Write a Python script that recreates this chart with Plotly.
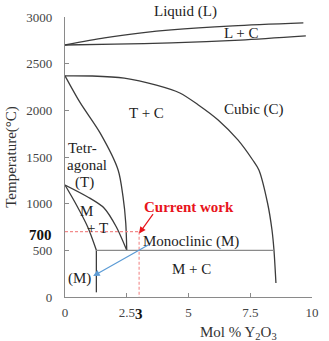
import plotly.graph_objects as go

# Phase boundaries (mol % Y2O3, temperature °C)
liq_x = [0, 1.6, 3.1, 4.3, 6.8, 9.65]
liq_T = [2700, 2776, 2830, 2862, 2905, 2937]
sol_x = [0, 2.0, 4.3, 7.1, 9.75]
sol_T = [2700, 2710, 2722, 2752, 2797]
cub_x = [0, 1.1, 2.4, 3.7, 4.65, 5.4, 6.2, 7.0, 7.6, 7.85, 8.2, 8.38, 8.46, 8.54]
cub_T = [2370, 2368, 2345, 2270, 2186, 2058, 1897, 1683, 1468, 1361, 1007, 718, 504, 150]
tet_x = [0, 0.62, 1.42, 2.15, 2.35, 2.46, 2.5]
tet_T = [2370, 2079, 1758, 1361, 1072, 793, 500]
mtu_x = [0, 0.92, 1.58, 2.08, 2.5]
mtu_T = [1200, 1072, 954, 750, 500]
mtl_x = [0, 0.42, 0.92, 1.27]
mtl_T = [1200, 1007, 750, 500]
mono_x = [1.27, 1.27]
mono_T = [500, 50]
eut_x = [1.27, 8.46]
eut_T = [500, 500]

# Current work point
cw_x = 3
cw_T = 700

x_ticks = [0, 2.5, 5, 7.5, 10]
y_ticks = [0, 500, 1000, 1500, 2000, 2500, 3000]

# Region labels (inside the plot range)
lab_text = ["L + C", "T + C", "Cubic (C)", "Tetr-", "agonal", "(T)",
            "M", "+ T", "(M)", "Monoclinic (M)", "M + C"]
lab_x = [7.15, 3.3, 7.65, 0.7, 0.9, 0.78, 0.88, 1.31, 0.6, 5.12, 5.12]
lab_T = [2830, 1972, 2004, 1597, 1415, 1222, 922, 740, 193, 590, 300]

FONT = "Liberation Serif, Times New Roman, serif"
LINE = "#3c3c3c"

fig = go.Figure()

def add_line(x, y, color=LINE, width=1.3, dash=None, shape="spline"):
    fig.add_trace(go.Scatter(x=x, y=y, mode="lines",
                             line=dict(color=color, width=width, dash=dash, shape=shape,
                                       smoothing=0.8),
                             hoverinfo="skip", showlegend=False, cliponaxis=False))

add_line(liq_x, liq_T)
add_line(sol_x, sol_T)
add_line(cub_x, cub_T)
add_line(tet_x, tet_T)
add_line(mtu_x, mtu_T)
add_line(mtl_x, mtl_T)
add_line(mono_x, mono_T, shape="linear")
add_line(eut_x, eut_T, color="#8a8a8a", shape="linear")

# dashed red guide lines
add_line([0, cw_x], [cw_T, cw_T], color="#f28b8b", width=1.1, dash="3px,2px", shape="linear")
add_line([cw_x, cw_x], [cw_T, 0], color="#f28b8b", width=1.1, dash="3px,2px", shape="linear")

annotations = []
for t, x, y in zip(lab_text, lab_x, lab_T):
    annotations.append(dict(text=t, x=x, y=y, xref="x", yref="y", showarrow=False,
                            font=dict(family=FONT, size=15, color="#222")))

# label above the plot area
annotations.append(dict(text="Liquid (L)", x=0.488, y=1.018, xref="paper", yref="paper",
                        xanchor="center", yanchor="middle",
                        showarrow=False, font=dict(family=FONT, size=15, color="#222")))

annotations.append(dict(text="<b>Current work</b>", x=5.0, y=965, xref="x", yref="y",
                        showarrow=False, font=dict(family=FONT, size=15, color="#e8141b")))
# red arrow
annotations.append(dict(text="", x=cw_x, y=cw_T - 20, xref="x", yref="y", showarrow=True,
                        ax=15, ay=-21, arrowhead=2, arrowsize=1.1, arrowwidth=1.2,
                        arrowcolor="#e8141b"))
# blue arrow from Monoclinic label to (M)
annotations.append(dict(text="", x=1.14, y=225, xref="x", yref="y", showarrow=True,
                        ax=57, ay=-32, arrowhead=2, arrowsize=1.1, arrowwidth=1.2,
                        arrowcolor="#5b9bd5"))
# bold special tick labels
annotations.append(dict(text="<b>700</b>", x=0, y=cw_T - 40, xref="x", yref="y",
                        xanchor="right", xshift=-11, showarrow=False,
                        font=dict(family=FONT, size=15, color="#111")))
annotations.append(dict(text="<b>3</b>", x=cw_x, y=0, xref="x", yref="y",
                        yanchor="top", yshift=-7, showarrow=False,
                        font=dict(family=FONT, size=15, color="#111")))
# x axis title (offset to the right as in the reference)
annotations.append(dict(text="Mol % Y<sub>2</sub>O<sub>3</sub>", x=0.704, y=-0.129,
                        xref="paper", yref="paper", xanchor="center", yanchor="middle",
                        showarrow=False, font=dict(family=FONT, size=15, color="#333")))

fig.update_layout(
    width=329, height=341,
    margin=dict(l=59, r=10, t=17, b=44),
    paper_bgcolor="white", plot_bgcolor="white",
    annotations=annotations,
    font=dict(family=FONT, size=13, color="#444"),
    xaxis=dict(range=[0, 10], tickvals=x_ticks, ticktext=["0", "2.5", "5", "7.5", "10"],
               ticks="inside", ticklen=4, tickcolor="#8a8a8a", showline=True,
               linecolor="#8a8a8a", linewidth=1.3, showgrid=False, zeroline=False,
               ticklabelstandoff=3, tickfont=dict(family=FONT, size=13, color="#444")),
    yaxis=dict(range=[0, 3000], tickvals=y_ticks, ticks="inside", ticklen=4,
               tickcolor="#8a8a8a", showline=True, linecolor="#8a8a8a", linewidth=1.3,
               showgrid=False, zeroline=False, ticklabelstandoff=9,
               tickfont=dict(family=FONT, size=13, color="#444"),
               title=dict(text="Temperature(°C)", standoff=6,
                          font=dict(family=FONT, size=15, color="#333"))),
)

fig.write_html("out.html")
